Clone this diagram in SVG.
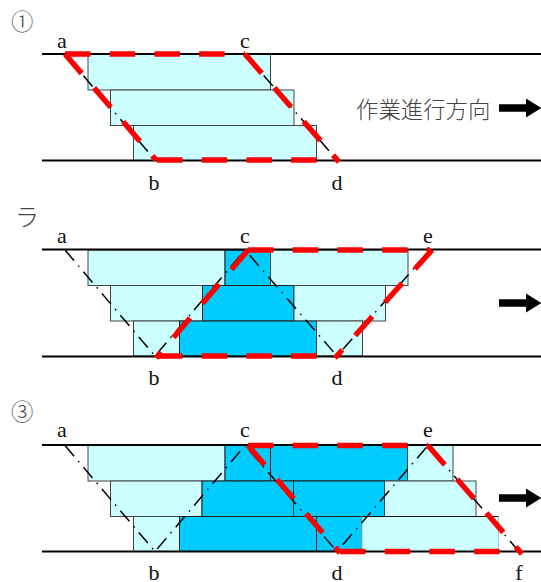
<svg xmlns="http://www.w3.org/2000/svg" width="541" height="582" viewBox="0 0 541 582">
<style>
.l{fill:#ccffff;stroke:#444;stroke-width:1}
.d{fill:#00ccff;stroke:#222;stroke-width:1}
.g{fill:none;stroke:#000;stroke-width:2}
.k{fill:none;stroke:#000;stroke-width:1.500;stroke-dasharray:14 6.500 1.500 6.500}
.r{fill:none;stroke:#f00;stroke-width:5.500;stroke-dasharray:25.500 19.200;stroke-linejoin:miter}
.t{font-family:"Liberation Serif",serif;font-size:22px;fill:#111;text-anchor:middle}
.c{font-family:"Noto Sans CJK JP",sans-serif;font-size:22.400px;font-weight:300;fill:#444}
.a{fill:#000}
</style>
<defs>
<path id="arrow" d="M499 -3.700H526V-9.500L541.500 0L526 9.500V3.700H499Z"/>
</defs>
<g id="panel1">
<g id="p1-blocks">
<rect class="l" x="88" y="54" width="182.500" height="36"/>
<rect class="l" x="110.500" y="90" width="183.500" height="35.500"/>
<rect class="l" x="133.500" y="125.500" width="183" height="35"/>
</g>
<g id="p1-connectors">
<path class="g" d="M42 54H541M42 160.500H541"/>
<path class="k" d="M65 54L155 160M245 54L337 160"/>
<path class="r" d="M65 54H245"/>
<path class="r" d="M65 54L156 160"/>
<path class="r" d="M245 54L339 162"/>
<path class="r" d="M157 160H338"/>
</g>
<text class="c" x="11" y="30">①</text>
<text class="t" x="62" y="47.500">a</text><text class="t" x="245" y="47.500">c</text>
<text class="t" x="154" y="189.500">b</text><text class="t" x="337" y="189.500">d</text>
<text class="c" x="356" y="118">作業進行方向</text>
<use class="a" href="#arrow" y="108"/>
</g>
<g id="panel2">
<g id="p2-blocks">
<rect class="l" x="88" y="250" width="137" height="35.500"/><rect class="d" x="225" y="250" width="45.500" height="35.500"/><rect class="l" x="270.500" y="250" width="137.500" height="35.500"/>
<rect class="l" x="110.500" y="285.500" width="92" height="35.500"/><rect class="d" x="202.500" y="285.500" width="91.500" height="35.500"/><rect class="l" x="294" y="285.500" width="91.500" height="35.500"/>
<rect class="l" x="133.500" y="321" width="46" height="35"/><rect class="d" x="179.500" y="321" width="137" height="35"/><rect class="l" x="316.500" y="321" width="46" height="35"/>
</g>
<g id="p2-connectors">
<path class="g" d="M42 249.500H541M42 356.500H541"/>
<path class="k" d="M65 250L155 356L245 250L337 356L430 250"/>
<path class="r" d="M248 250H430"/>
<path class="r" d="M248 250L156 358"/>
<path class="r" d="M432 250L335 358"/>
<path class="r" d="M157 356H337"/>
</g>
<text class="c" style="font-size:24px" x="15" y="226">ラ</text>
<text class="t" x="62" y="242.500">a</text><text class="t" x="245" y="242.500">c</text><text class="t" x="428" y="242.500">e</text>
<text class="t" x="154" y="384.500">b</text><text class="t" x="337" y="384.500">d</text>
<use class="a" href="#arrow" y="303"/>
</g>
<g id="panel3">
<g id="p3-blocks">
<rect class="l" x="88" y="445.500" width="137" height="35.500"/><rect class="d" x="225" y="445.500" width="45.500" height="35.500"/><rect class="d" x="270.500" y="445.500" width="137" height="35.500"/><rect class="l" x="407.500" y="445.500" width="45.500" height="35.500"/>
<rect class="l" x="110.500" y="481" width="91.500" height="35.500"/><rect class="d" x="202" y="481" width="91.500" height="35.500"/><rect class="d" x="293.500" y="481" width="91" height="35.500"/><rect class="l" x="384.500" y="481" width="91.500" height="35.500"/>
<rect class="l" x="133.500" y="516.500" width="46" height="35"/><rect class="d" x="179.500" y="516.500" width="137" height="35"/><rect class="d" x="316.500" y="516.500" width="45.500" height="35"/><rect class="l" x="362" y="516.500" width="136.500" height="35" style="stroke:#9cc"/>
<path d="M362 516.500H498.500" stroke="#111" fill="none"/>
</g>
<g id="p3-connectors">
<path class="g" d="M42 445H541M42 551.500H541"/>
<path class="k" d="M65 445.500L155 551.500L245 445.500L337 551.500L428 445.500L519 551.500"/>
<path class="r" d="M248 445.500H428"/>
<path class="r" d="M248 445.500L340 553"/>
<path class="r" d="M428 445.500L522 554"/>
<path class="r" d="M340 551.500H520"/>
</g>
<text class="c" x="11" y="420">③</text>
<text class="t" x="62" y="437">a</text><text class="t" x="245" y="437">c</text><text class="t" x="428" y="437">e</text>
<text class="t" x="154" y="580">b</text><text class="t" x="337" y="580">d</text><text class="t" x="519" y="580">f</text>
<use class="a" href="#arrow" y="498"/>
</g>
</svg>
